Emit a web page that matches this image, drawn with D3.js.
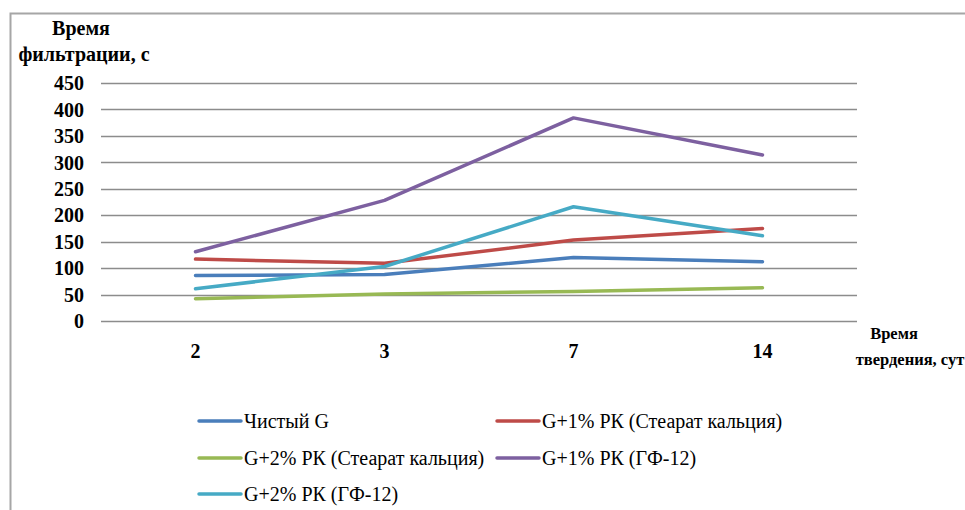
<!DOCTYPE html>
<html><head><meta charset="utf-8">
<script src="https://cdn.jsdelivr.net/npm/d3@7"></script>
<style>body{margin:0;background:#fff}svg{display:block}</style>
</head><body>
<svg id="c" width="965" height="510"></svg>
<script>
const categories = ["2", "3", "7", "14"];
const yTicks = [0, 50, 100, 150, 200, 250, 300, 350, 400, 450];
const seriesNames = ["Чистый G", "G+1% РК (Стеарат кальция)", "G+2% РК (Стеарат кальция)", "G+1% РК (ГФ-12)", "G+2% РК (ГФ-12)"];
const pureG = [86, 88, 120, 112];
const g1Stearate = [117, 109, 153, 175];
const g2Stearate = [42, 51, 56, 63];
const g1GF = [131, 228, 384, 314];
const g2GF = [61, 103, 216, 161];
const colors = ["#4a7ebb", "#be4b48", "#98b954", "#7d60a0", "#46aac5"];
const seriesValues = [pureG, g1Stearate, g2Stearate, g1GF, g2GF];

const svg = d3.select("#c");
const FONT = '"Liberation Serif", serif';
const pLeft = 101, pRight = 857, pTop = 83, pBottom = 321;
const x = d3.scaleBand().domain(categories).range([pLeft, pRight]);
const y = d3.scaleLinear().domain([0, 450]).range([pBottom, pTop]);

// frame
svg.append("path").attr("d", `M10.5,${510}V13.5H965`).attr("fill", "none").attr("stroke", "#a6a6a6").attr("stroke-width", 2);

// gridlines
svg.append("g").selectAll("line").data(yTicks).join("line")
  .attr("x1", pLeft).attr("x2", pRight)
  .attr("y1", d => Math.round(y(d)) + 0.5).attr("y2", d => Math.round(y(d)) + 0.5)
  .attr("stroke", "#8c8c8c").attr("stroke-width", 1.3);

// y tick labels
svg.append("g").selectAll("text").data(yTicks).join("text")
  .attr("x", 84).attr("y", d => y(d)).attr("dy", "0.36em")
  .attr("text-anchor", "end").style("font-family", FONT).style("font-weight", "bold").style("font-size", "20px")
  .text(d => d);

// x labels
svg.append("g").selectAll("text").data(categories).join("text")
  .attr("x", d => x(d) + x.bandwidth() / 2).attr("y", 358)
  .attr("text-anchor", "middle").style("font-family", FONT).style("font-weight", "bold").style("font-size", "20px")
  .text(d => d);

// axis titles
const yt = svg.append("text").style("font-family", FONT).style("font-weight", "bold").style("font-size", "20px").attr("text-anchor", "middle");
yt.append("tspan").attr("x", 81).attr("y", 35).text("Время");
yt.append("tspan").attr("x", 84).attr("y", 61).text("фильтрации, с");
const xt = svg.append("text").style("font-family", FONT).style("font-weight", "bold").style("font-size", "16.5px").attr("text-anchor", "middle");
xt.append("tspan").attr("x", 894).attr("y", 339).text("Время");
xt.append("tspan").attr("x", 910).attr("y", 365).text("твердения, сут");

// lines
const line = d3.line().x((d, i) => x(categories[i]) + x.bandwidth() / 2).y(d => y(d));
svg.append("g").selectAll("path").data(seriesValues).join("path")
  .attr("d", d => line(d)).attr("fill", "none")
  .attr("stroke", (d, i) => colors[i]).attr("stroke-width", 3.5)
  .attr("stroke-linejoin", "round").attr("stroke-linecap", "round");

// legend
const legPos = [[199, 421], [497, 421], [199, 458], [497, 458], [199, 494]];
const lg = svg.append("g").selectAll("g").data(seriesNames).join("g")
  .attr("transform", (d, i) => `translate(${legPos[i][0]},${legPos[i][1]})`);
lg.append("line").attr("x1", 0).attr("x2", 42).attr("y1", 0).attr("y2", 0)
  .attr("stroke", (d, i) => colors[i]).attr("stroke-width", 3.5).attr("stroke-linecap", "round");
lg.append("text").attr("x", 45).attr("y", 0).attr("dy", "0.35em")
  .style("font-family", FONT).style("font-size", "20px").attr("fill", "#000")
  .text(d => d);
</script>
</body></html>
